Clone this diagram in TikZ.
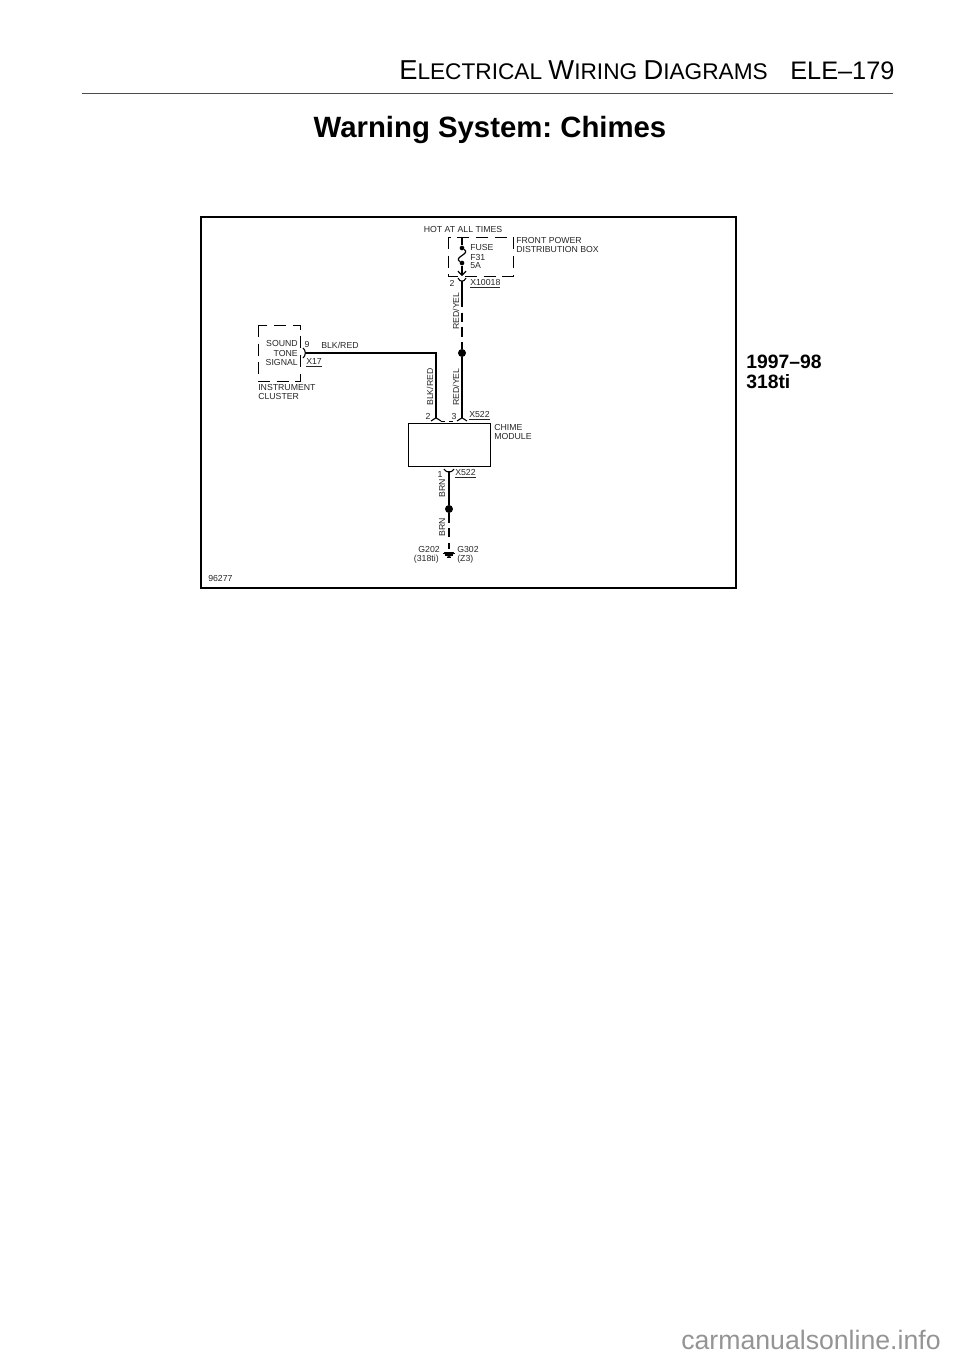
\documentclass[tikz,border=0pt]{standalone}
\usepackage{fontspec}
\setmainfont{Liberation Sans}
\usetikzlibrary{arrows.meta}
\frenchspacing
\newcommand{\hdbig}[1]{{\fontsize{20.5}{21}\selectfont #1}}
\tikzset{
  lbl/.style={font=\fontsize{6.55}{7.2}\selectfont, inner sep=0pt, text=black!85},
  wire/.style={line width=1.1pt, black},
  wiredash/.style={line width=1.1pt, black, dash pattern=on 7pt off 4pt},
  boxdash/.style={line width=0.7pt, black, dash pattern=on 9pt off 5pt},
  splice/.style={circle, fill=black, inner sep=0pt, minimum size=6pt},
  fusedot/.style={circle, fill=black, inner sep=0pt, minimum size=3.5pt},
  cup/.style={line width=0.8pt, black}
}
\begin{document}
\begin{tikzpicture}[x=0.75pt,y=-0.75pt]
  \useasboundingbox (0,0) rectangle (960,1357);
  % Header
  \node[anchor=west, font=\fontsize{17}{18}\selectfont, inner sep=0pt] (header) at (399,70) {\hdbig{E}LECTRICAL \hdbig{W}IRING \hdbig{D}IAGRAMS};
  \node[anchor=west, font=\fontsize{19}{20}\selectfont, inner sep=0pt] (pagenum) at (790,71) {ELE--179};
  \coordinate (ruleL) at (82,93);
  \coordinate (ruleR) at (893,93);
  \draw[line width=0.7pt, black!70] (ruleL) -- (ruleR);
  \node[font=\bfseries\fontsize{22}{24}\selectfont, inner sep=0pt] (title) at (490,130) {Warning System: Chimes};
  % Frame
  \coordinate (frameNW) at (201,217);
  \coordinate (frameSE) at (736,588);
  \draw[line width=0.8pt] (frameNW) rectangle (frameSE);
  \node[lbl, anchor=west] (figno) at (208,578) {96277};
  % Fuse box
  \node[lbl] (hot) at (463,229) {HOT AT ALL TIMES};
  \coordinate (fuseNW) at (448,237);
  \coordinate (fuseSE) at (513,276);
  \draw[boxdash] (fuseNW) rectangle (fuseSE);
  \node[lbl, anchor=west, align=left] (fpdb) at (516,245) {FRONT POWER\\DISTRIBUTION BOX};
  \node[fusedot] (fuseA) at (462,248) {};
  \node[fusedot] (fuseB) at (462,263) {};
  \coordinate (fuseTop) at (462,237);
  \coordinate (fuseTip) at (462,276);
  \draw[line width=0.9pt] (fuseTop) -- (fuseA);
  \draw[line width=0.9pt] (fuseA) .. controls (471,254) and (453,257) .. (fuseB);
  \draw[line width=0.9pt, -{Straight Barb[length=3pt,width=6pt]}] (fuseB) -- (fuseTip);
  \node[lbl, anchor=west] (fusetxt) at (470,247) {FUSE};
  \node[lbl, anchor=west] (f31) at (470,257) {F31};
  \node[lbl, anchor=west] (amps) at (470,266) {5A};
  % X10018
  \draw[cup] (458,278) .. controls (459,281) and (461,281) .. (462,281) .. controls (463,281) and (465,281) .. (466,278);
  \node[lbl] (pin2a) at (452,283) {2};
  \node[lbl, anchor=west] (x10018) at (470,284) {\underline{X10018}};
  \coordinate (wireB) at (462,298);
  \node[splice] (spl1) at (462,353) {};
  \draw[wire] (462,281) -- (wireB);
  \draw[wiredash] (wireB) -- (spl1);
  \node[lbl, rotate=90] (ry1) at (456,311) {RED/YEL};
  % Chime feed
  \coordinate (pin3) at (462,418);
  \draw[wire] (spl1) -- (pin3);
  \node[lbl, rotate=90] (ry2) at (456,387) {RED/YEL};
  % Instrument cluster
  \coordinate (clusterNW) at (258,325);
  \coordinate (clusterSE) at (300,381);
  \draw[boxdash] (clusterNW) rectangle (clusterSE);
  \node[lbl, anchor=east] (sound) at (298,343) {SOUND};
  \node[lbl, anchor=east] (tone) at (298,353) {TONE};
  \node[lbl, anchor=east] (signal) at (298,362) {SIGNAL};
  \node[lbl, anchor=west, align=left] (cluster) at (258,392) {INSTRUMENT\\CLUSTER};
  \node[lbl] (pin9) at (307,344) {9};
  \node[lbl, anchor=west] (blkred) at (321,345) {BLK/RED};
  \node[lbl, anchor=west] (x17) at (306,363) {\underline{X17}};
  \coordinate (x17c) at (305,353);
  \coordinate (corner) at (436,353);
  \coordinate (pin2) at (436,418);
  \draw[cup] (303,348) .. controls (306,350) and (306,356) .. (303,358);
  \draw[wire] (x17c) -- (corner) -- (pin2);
  \node[lbl, rotate=90] (br) at (430,387) {BLK/RED};
  % Chime module
  \coordinate (modNW) at (408,423);
  \coordinate (modSE) at (490,466);
  \draw[line width=0.7pt] (modNW) rectangle (modSE);
  \node[lbl, anchor=west, align=left] (chime) at (494,432) {CHIME\\MODULE};
  \draw[cup] (431,421) .. controls (433,420) and (435,418) .. (436,418) .. controls (437,418) and (439,420) .. (441,421);
  \draw[cup] (457,421) .. controls (459,420) and (461,418) .. (462,418) .. controls (463,418) and (465,420) .. (467,421);
  \draw[line width=0.6pt, dashed] (441,421) -- (457,421);
  \node[lbl] (pin2b) at (428,416) {2};
  \node[lbl] (pin3b) at (454,416) {3};
  \node[lbl, anchor=west] (x522a) at (469,416) {\underline{X522}};
  % Ground side
  \draw[cup] (444,469) .. controls (446,472) and (448,472) .. (449,472) .. controls (450,472) and (452,472) .. (454,469);
  \node[lbl] (pin1) at (440,474) {1};
  \node[lbl, anchor=west] (x522b) at (455,474) {\underline{X522}};
  \node[splice] (spl2) at (449,509) {};
  \draw[wire] (449,471) -- (spl2);
  \node[lbl, rotate=90] (brn1) at (442,488) {BRN};
  \node[lbl, rotate=90] (brn2) at (442,527) {BRN};
  \coordinate (gnd) at (449,549);
  \draw[wiredash] (spl2) -- (gnd);
  \fill (444,552) arc (180:0:5) -- cycle;
  \draw[line width=0.5pt] (443,553) -- (455,553) (445,555) -- (453,555) (447,557) -- (451,557);
  \node[lbl, anchor=east] (g202) at (440,549) {G202};
  \node[lbl, anchor=east] (t318) at (439,559) {(318ti)};
  \node[lbl, anchor=west] (g302) at (457,549) {G302};
  \node[lbl, anchor=west] (z3) at (457,559) {(Z3)};
  % Model years
  \node[anchor=west, align=left, font=\bfseries\fontsize{14.5}{14.5}\selectfont, inner sep=0pt] (years) at (746,372) {1997--98\\318ti};
  % Site mark
  \node[anchor=west, font=\fontsize{20}{22}\selectfont, inner sep=0pt, text=black!42] (site) at (681,1340) {carmanualsonline.info};
\end{tikzpicture}
\end{document}
